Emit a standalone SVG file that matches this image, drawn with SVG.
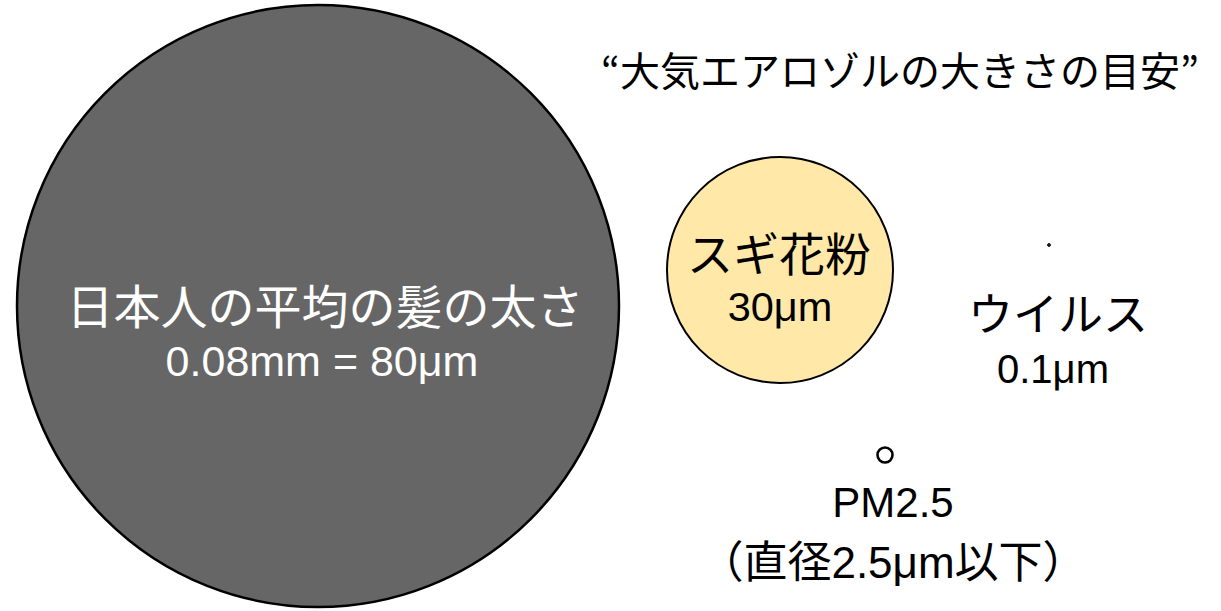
<svg xmlns="http://www.w3.org/2000/svg" width="1221" height="611" viewBox="0 0 1221 611">
<style>
.jp{font-family:"Noto Sans CJK JP","Noto Sans",sans-serif;}
.lat{font-family:"Liberation Sans",Arial,"Noto Sans CJK JP",sans-serif;}
.c{text-anchor:middle;}
.w{fill:#ffffff;}
.k{fill:#000000;}
</style>
<rect width="1221" height="611" fill="#ffffff"/>
<g id="title">
<text class="jp c k" x="900" y="86" font-size="40">“大気エアロゾルの大きさの目安”</text>
</g>
<g id="hair">
<circle cx="318" cy="306" r="301" fill="#666666" stroke="#000" stroke-width="2.5"/>
<text class="jp c w" x="325" y="324" font-size="47">日本人の平均の髪の太さ</text>
<text class="lat c w" x="322" y="376" font-size="43">0.08mm = 80μm</text>
</g>
<g id="pollen">
<circle cx="780" cy="270" r="113" fill="#FFE8A8" stroke="#000" stroke-width="2"/>
<text class="jp c k" x="779" y="271" font-size="46">スギ花粉</text>
<text class="lat c k" x="780" y="321" font-size="41.5">30μm</text>
</g>
<g id="virus">
<circle cx="1049" cy="245" r="1.4" fill="#333" stroke="#000" stroke-width="1"/>
<text class="jp c k" x="1058" y="331" font-size="45">ウイルス</text>
<text class="lat c k" x="1053" y="383" font-size="40">0.1μm</text>
</g>
<g id="pm25">
<circle cx="885" cy="455" r="7.5" fill="#fff" stroke="#000" stroke-width="2.6"/>
<text class="lat c k" x="893" y="517" font-size="42">PM2.5</text>
<text class="jp c k" x="893" y="578" font-size="44">（直径<tspan class="lat">2.5μm</tspan>以下）</text>
</g>
<g id="connectors"></g>
</svg>
